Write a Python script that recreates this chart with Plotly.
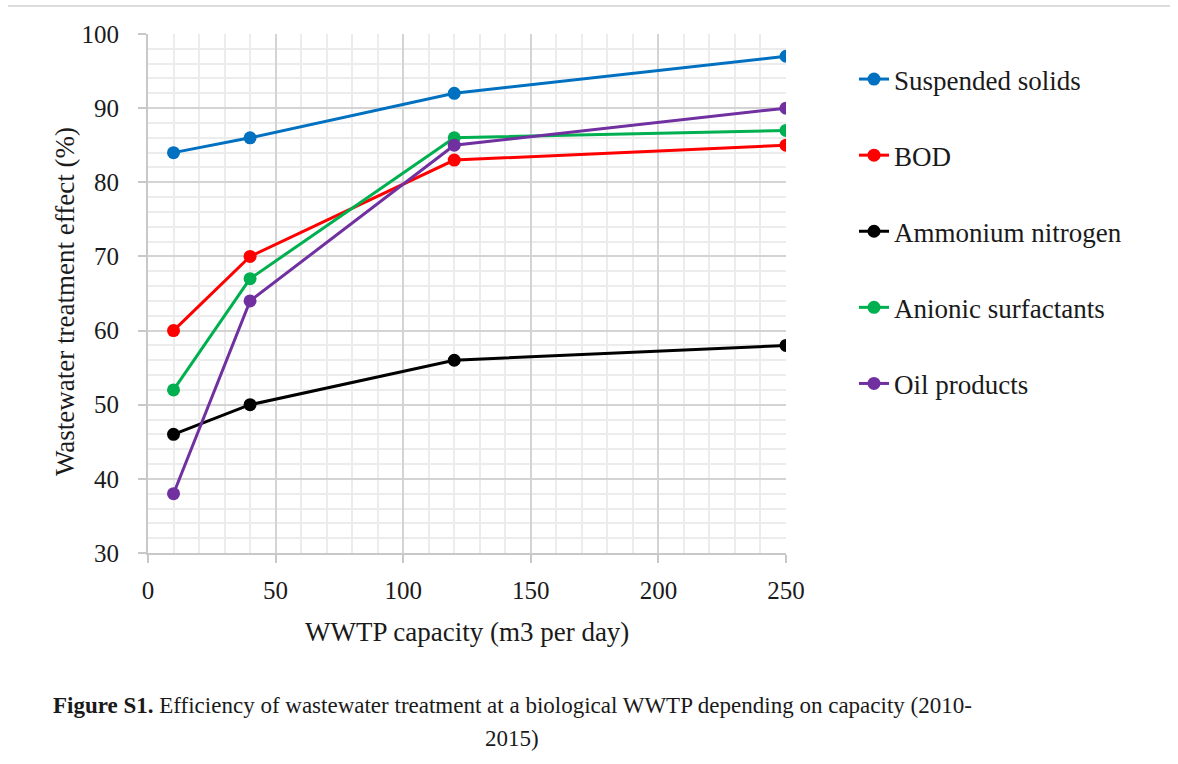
import plotly.graph_objects as go

capacity = [10, 40, 120, 250]
series_names = ["Suspended solids", "BOD", "Ammonium nitrogen", "Anionic surfactants", "Oil products"]
suspended_solids = [84, 86, 92, 97]
bod = [60, 70, 83, 85]
ammonium_nitrogen = [46, 50, 56, 58]
anionic_surfactants = [52, 67, 86, 87]
oil_products = [38, 64, 85, 90]
series_values = [suspended_solids, bod, ammonium_nitrogen, anionic_surfactants, oil_products]
colors = ["#0070C0", "#FF0000", "#000000", "#00B050", "#7030A0"]

FONT = "Liberation Serif"
TXT = "#1a1a1a"
fig = go.Figure()
for i, (name, vals, col) in enumerate(zip(series_names, series_values, colors)):
    fig.add_trace(go.Scatter(
        x=capacity, y=vals, name=name, mode="lines+markers",
        line=dict(color=col, width=3), marker=dict(color=col, size=13),
        legendgroup=f"g{i}",
    ))

L, R, T, B = 148, 786, 34, 553
W, H = 1178, 764
pw, ph = R - L, B - T

def px(x):
    return (x - L) / pw

def py(y):
    return (B - y) / ph

axis_common = dict(
    showgrid=True, gridcolor="#d4d4d4", gridwidth=1.5,
    showline=True, linecolor="#c8c8c8", linewidth=2,
    ticks="outside", ticklen=8, tickcolor="#c8c8c8", tickwidth=2,
    zeroline=False, tickfont=dict(family=FONT, size=25, color=TXT),
)

fig.update_layout(
    width=W, height=H,
    margin=dict(l=L, r=W - R, t=T, b=H - B, autoexpand=False),
    paper_bgcolor="white", plot_bgcolor="white",
    font=dict(family=FONT, size=25, color=TXT),
    showlegend=True,
    legend=dict(x=px(854), y=py(55), xanchor="left", yanchor="top",
                traceorder="grouped", tracegroupgap=38,
                font=dict(family=FONT, size=27, color=TXT),
                bgcolor="rgba(0,0,0,0)"),
    xaxis=dict(range=[0, 250], dtick=50, tick0=0,
               minor=dict(dtick=10, showgrid=True, gridcolor="#ececec", gridwidth=1.5),
               ticklabelstandoff=6, **axis_common),
    yaxis=dict(range=[30, 100], dtick=10, tick0=0,
               minor=dict(dtick=2, showgrid=True, gridcolor="#ececec", gridwidth=1.5),
               ticklabelstandoff=14, **axis_common),
)

fig.add_annotation(text="Wastewater treatment effect (%)", textangle=-90,
                   xref="paper", yref="paper", x=px(65), y=py(301),
                   xanchor="center", yanchor="middle", showarrow=False,
                   font=dict(size=27))
fig.add_annotation(text="WWTP capacity (m3 per day)",
                   xref="paper", yref="paper", x=px(467), y=py(632),
                   xanchor="center", yanchor="middle", showarrow=False,
                   font=dict(size=27))
fig.add_annotation(text="<b>Figure S1.</b> Efficiency of wastewater treatment at a biological WWTP depending on capacity (2010-",
                   xref="paper", yref="paper", x=px(512), y=py(705),
                   xanchor="center", yanchor="middle", showarrow=False,
                   font=dict(size=23))
fig.add_annotation(text="2015)",
                   xref="paper", yref="paper", x=px(512), y=py(738),
                   xanchor="center", yanchor="middle", showarrow=False,
                   font=dict(size=23))
fig.add_shape(type="line", xref="paper", yref="paper",
              x0=px(8), x1=px(1170), y0=py(6), y1=py(6),
              line=dict(color="#dcdcdc", width=2))

fig.write_html("out.html", config={"displayModeBar": False},
               post_script="document.body.style.margin='0';")
